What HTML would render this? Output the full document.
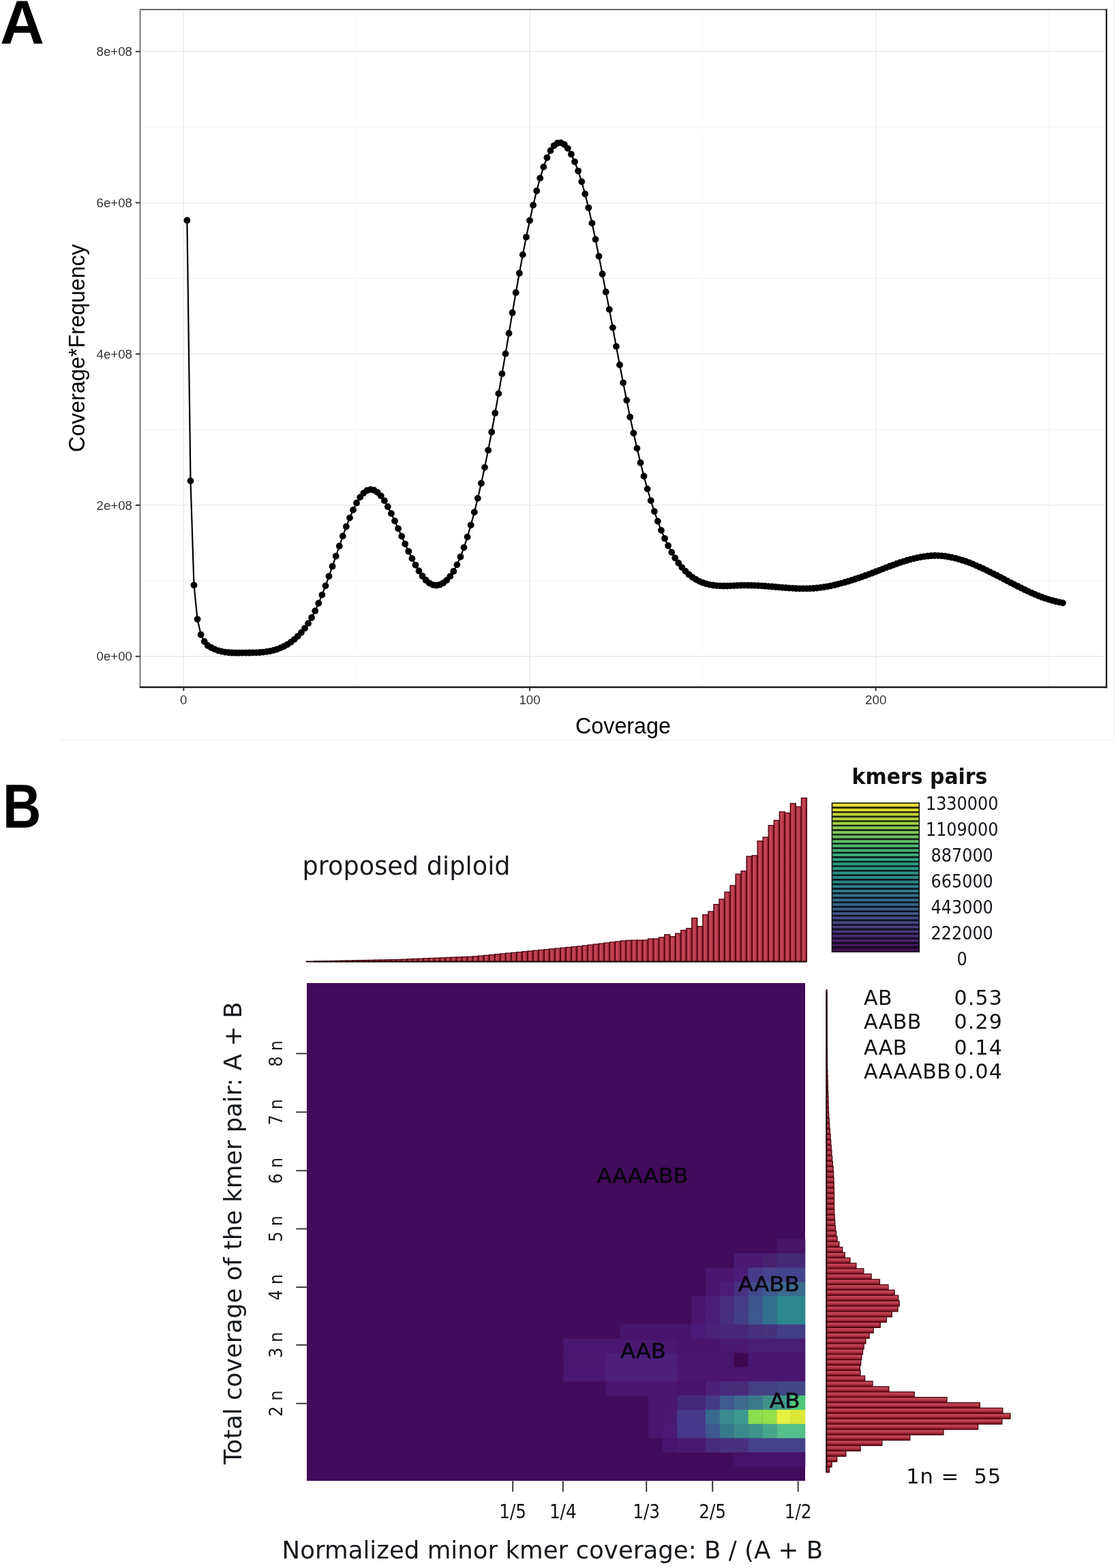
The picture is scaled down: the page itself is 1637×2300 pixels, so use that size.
<!DOCTYPE html>
<html><head><meta charset="utf-8"><title>Figure</title>
<style>html,body{margin:0;padding:0;background:#fff;} body{width:1637px;height:2300px;overflow:hidden;} svg{display:block;}</style>
</head><body>
<svg width="1637" height="2300" viewBox="0 0 1637 2300"><defs><linearGradient id="gv" x1="0" y1="0" x2="1" y2="0"><stop offset="0" stop-color="#a52a3a"/><stop offset="0.4" stop-color="#c84a5a"/><stop offset="0.75" stop-color="#b03444"/><stop offset="1" stop-color="#6a0a16"/></linearGradient><linearGradient id="gh" x1="0" y1="0" x2="0" y2="1"><stop offset="0" stop-color="#c44b5b"/><stop offset="0.45" stop-color="#bc3d4d"/><stop offset="0.8" stop-color="#8c1828"/><stop offset="1" stop-color="#60081a"/></linearGradient></defs>
<line x1="88" y1="1085.5" x2="1634.5" y2="1085.5" stroke="#f1f1f1" stroke-width="1.5"/>
<line x1="1634.5" y1="0" x2="1634.5" y2="1085.5" stroke="#f1f1f1" stroke-width="1.5"/>
<line x1="205.5" y1="851.9" x2="1623.0" y2="851.9" stroke="#f3f3f3" stroke-width="1.2"/>
<line x1="205.5" y1="630.1" x2="1623.0" y2="630.1" stroke="#f3f3f3" stroke-width="1.2"/>
<line x1="205.5" y1="408.3" x2="1623.0" y2="408.3" stroke="#f3f3f3" stroke-width="1.2"/>
<line x1="205.5" y1="186.5" x2="1623.0" y2="186.5" stroke="#f3f3f3" stroke-width="1.2"/>
<line x1="523.1" y1="14.0" x2="523.1" y2="1008.0" stroke="#fbfbfb" stroke-width="1.2"/>
<line x1="1030.8" y1="14.0" x2="1030.8" y2="1008.0" stroke="#fbfbfb" stroke-width="1.2"/>
<line x1="1538.5" y1="14.0" x2="1538.5" y2="1008.0" stroke="#f3f3f3" stroke-width="1.2"/>
<line x1="205.5" y1="962.8" x2="1623.0" y2="962.8" stroke="#eaeaea" stroke-width="1.5"/>
<line x1="205.5" y1="741.0" x2="1623.0" y2="741.0" stroke="#eaeaea" stroke-width="1.5"/>
<line x1="205.5" y1="519.2" x2="1623.0" y2="519.2" stroke="#eaeaea" stroke-width="1.5"/>
<line x1="205.5" y1="297.4" x2="1623.0" y2="297.4" stroke="#eaeaea" stroke-width="1.5"/>
<line x1="205.5" y1="75.6" x2="1623.0" y2="75.6" stroke="#eaeaea" stroke-width="1.5"/>
<line x1="269.3" y1="14.0" x2="269.3" y2="1008.0" stroke="#eaeaea" stroke-width="1.5"/>
<line x1="777.0" y1="14.0" x2="777.0" y2="1008.0" stroke="#eaeaea" stroke-width="1.5"/>
<line x1="1284.7" y1="14.0" x2="1284.7" y2="1008.0" stroke="#eaeaea" stroke-width="1.5"/>
<path d="M274.4,323.2 L279.5,705.4 L284.5,858.3 L289.6,908.3 L294.7,931.0 L299.8,941.0 L304.8,947.0 L309.9,950.0 L315.0,952.4 L320.1,954.3 L325.1,955.6 L330.2,956.6 L335.3,957.2 L340.4,957.5 L345.5,957.7 L350.5,957.7 L355.6,957.6 L360.7,957.6 L365.8,957.5 L370.8,957.4 L375.9,957.3 L381.0,957.0 L386.1,956.6 L391.1,955.9 L396.2,955.1 L401.3,953.9 L406.4,952.3 L411.5,950.4 L416.5,948.1 L421.6,945.3 L426.7,941.9 L431.8,937.9 L436.8,933.3 L441.9,927.9 L447.0,921.6 L452.1,914.4 L457.1,906.0 L462.2,896.1 L467.3,884.9 L472.4,872.6 L477.5,859.3 L482.5,845.3 L487.6,830.7 L492.7,815.8 L497.8,801.0 L502.8,786.4 L507.9,772.5 L513.0,759.6 L518.1,747.9 L523.1,737.7 L528.2,729.4 L533.3,723.3 L538.4,719.5 L543.5,718.2 L548.5,719.0 L553.6,722.1 L558.7,727.3 L563.8,734.4 L568.8,743.2 L573.9,753.2 L579.0,764.1 L584.1,775.3 L589.2,786.6 L594.2,797.8 L599.3,808.8 L604.4,819.2 L609.5,828.8 L614.5,837.5 L619.6,845.0 L624.7,851.0 L629.8,855.4 L634.8,857.9 L639.9,858.7 L645.0,857.7 L650.1,855.2 L655.2,851.1 L660.2,845.4 L665.3,838.0 L670.4,828.4 L675.5,816.8 L680.5,803.1 L685.6,787.6 L690.7,770.3 L695.8,751.3 L700.8,730.9 L705.9,709.0 L711.0,685.6 L716.1,660.4 L721.2,633.8 L726.2,606.0 L731.3,577.4 L736.4,548.3 L741.5,518.9 L746.5,489.0 L751.6,458.7 L756.7,429.2 L761.8,400.7 L766.8,373.6 L771.9,347.8 L777.0,323.5 L782.1,300.9 L787.2,280.0 L792.2,261.3 L797.3,244.9 L802.4,231.3 L807.5,220.9 L812.5,213.8 L817.6,210.0 L822.7,209.4 L827.8,212.0 L832.8,217.6 L837.9,226.2 L843.0,237.3 L848.1,250.8 L853.2,266.5 L858.2,284.5 L863.3,304.8 L868.4,327.4 L873.5,351.1 L878.5,375.9 L883.6,402.0 L888.7,428.2 L893.8,453.9 L898.8,480.6 L903.9,508.1 L909.0,535.2 L914.1,561.5 L919.2,587.1 L924.2,611.7 L929.3,635.3 L934.4,657.6 L939.5,678.7 L944.5,698.5 L949.6,717.1 L954.7,734.3 L959.8,750.1 L964.8,764.6 L969.9,777.9 L975.0,789.8 L980.1,800.5 L985.2,810.1 L990.2,818.5 L995.3,825.9 L1000.4,832.4 L1005.5,837.9 L1010.5,842.7 L1015.6,846.7 L1020.7,849.9 L1025.8,852.6 L1030.8,854.7 L1035.9,856.4 L1041.0,857.6 L1046.1,858.5 L1051.2,859.1 L1056.2,859.4 L1061.3,859.5 L1066.4,859.5 L1071.5,859.3 L1076.5,859.1 L1081.6,858.9 L1086.7,858.7 L1091.8,858.6 L1096.9,858.6 L1101.9,858.7 L1107.0,858.9 L1112.1,859.1 L1117.2,859.4 L1122.2,859.7 L1127.3,860.1 L1132.4,860.5 L1137.5,861.0 L1142.5,861.4 L1147.6,861.8 L1152.7,862.2 L1157.8,862.6 L1162.9,862.9 L1167.9,863.2 L1173.0,863.3 L1178.1,863.4 L1183.2,863.4 L1188.2,863.2 L1193.3,863.0 L1198.4,862.5 L1203.5,861.9 L1208.5,861.2 L1213.6,860.3 L1218.7,859.3 L1223.8,858.2 L1228.9,856.9 L1233.9,855.6 L1239.0,854.2 L1244.1,852.7 L1249.2,851.1 L1254.2,849.5 L1259.3,847.8 L1264.4,846.1 L1269.5,844.2 L1274.5,842.4 L1279.6,840.5 L1284.7,838.5 L1289.8,836.6 L1294.9,834.6 L1299.9,832.6 L1305.0,830.7 L1310.1,828.8 L1315.2,827.0 L1320.2,825.2 L1325.3,823.6 L1330.4,822.0 L1335.5,820.6 L1340.5,819.3 L1345.6,818.1 L1350.7,817.1 L1355.8,816.3 L1360.9,815.7 L1365.9,815.2 L1371.0,815.0 L1376.1,815.1 L1381.2,815.4 L1386.2,815.9 L1391.3,816.7 L1396.4,817.7 L1401.5,818.9 L1406.5,820.3 L1411.6,821.8 L1416.7,823.5 L1421.8,825.4 L1426.9,827.4 L1431.9,829.6 L1437.0,831.8 L1442.1,834.1 L1447.2,836.6 L1452.2,839.1 L1457.3,841.6 L1462.4,844.2 L1467.5,846.8 L1472.5,849.5 L1477.6,852.1 L1482.7,854.8 L1487.8,857.4 L1492.9,860.0 L1497.9,862.5 L1503.0,865.0 L1508.1,867.4 L1513.2,869.7 L1518.2,871.9 L1523.3,874.0 L1528.4,876.0 L1533.5,877.8 L1538.5,879.4 L1543.6,880.9 L1548.7,882.2 L1553.8,883.4 L1558.9,884.3" fill="none" stroke="#000" stroke-width="2.2" stroke-linejoin="round"/>
<g fill="#000"><circle cx="274.4" cy="323.2" r="4.9"/><circle cx="279.5" cy="705.4" r="4.9"/><circle cx="284.5" cy="858.3" r="4.9"/><circle cx="289.6" cy="908.3" r="4.9"/><circle cx="294.7" cy="931.0" r="4.9"/><circle cx="299.8" cy="941.0" r="4.9"/><circle cx="304.8" cy="947.0" r="4.9"/><circle cx="309.9" cy="950.0" r="4.9"/><circle cx="315.0" cy="952.4" r="4.9"/><circle cx="320.1" cy="954.3" r="4.9"/><circle cx="325.1" cy="955.6" r="4.9"/><circle cx="330.2" cy="956.6" r="4.9"/><circle cx="335.3" cy="957.2" r="4.9"/><circle cx="340.4" cy="957.5" r="4.9"/><circle cx="345.5" cy="957.7" r="4.9"/><circle cx="350.5" cy="957.7" r="4.9"/><circle cx="355.6" cy="957.6" r="4.9"/><circle cx="360.7" cy="957.6" r="4.9"/><circle cx="365.8" cy="957.5" r="4.9"/><circle cx="370.8" cy="957.4" r="4.9"/><circle cx="375.9" cy="957.3" r="4.9"/><circle cx="381.0" cy="957.0" r="4.9"/><circle cx="386.1" cy="956.6" r="4.9"/><circle cx="391.1" cy="955.9" r="4.9"/><circle cx="396.2" cy="955.1" r="4.9"/><circle cx="401.3" cy="953.9" r="4.9"/><circle cx="406.4" cy="952.3" r="4.9"/><circle cx="411.5" cy="950.4" r="4.9"/><circle cx="416.5" cy="948.1" r="4.9"/><circle cx="421.6" cy="945.3" r="4.9"/><circle cx="426.7" cy="941.9" r="4.9"/><circle cx="431.8" cy="937.9" r="4.9"/><circle cx="436.8" cy="933.3" r="4.9"/><circle cx="441.9" cy="927.9" r="4.9"/><circle cx="447.0" cy="921.6" r="4.9"/><circle cx="452.1" cy="914.4" r="4.9"/><circle cx="457.1" cy="906.0" r="4.9"/><circle cx="462.2" cy="896.1" r="4.9"/><circle cx="467.3" cy="884.9" r="4.9"/><circle cx="472.4" cy="872.6" r="4.9"/><circle cx="477.5" cy="859.3" r="4.9"/><circle cx="482.5" cy="845.3" r="4.9"/><circle cx="487.6" cy="830.7" r="4.9"/><circle cx="492.7" cy="815.8" r="4.9"/><circle cx="497.8" cy="801.0" r="4.9"/><circle cx="502.8" cy="786.4" r="4.9"/><circle cx="507.9" cy="772.5" r="4.9"/><circle cx="513.0" cy="759.6" r="4.9"/><circle cx="518.1" cy="747.9" r="4.9"/><circle cx="523.1" cy="737.7" r="4.9"/><circle cx="528.2" cy="729.4" r="4.9"/><circle cx="533.3" cy="723.3" r="4.9"/><circle cx="538.4" cy="719.5" r="4.9"/><circle cx="543.5" cy="718.2" r="4.9"/><circle cx="548.5" cy="719.0" r="4.9"/><circle cx="553.6" cy="722.1" r="4.9"/><circle cx="558.7" cy="727.3" r="4.9"/><circle cx="563.8" cy="734.4" r="4.9"/><circle cx="568.8" cy="743.2" r="4.9"/><circle cx="573.9" cy="753.2" r="4.9"/><circle cx="579.0" cy="764.1" r="4.9"/><circle cx="584.1" cy="775.3" r="4.9"/><circle cx="589.2" cy="786.6" r="4.9"/><circle cx="594.2" cy="797.8" r="4.9"/><circle cx="599.3" cy="808.8" r="4.9"/><circle cx="604.4" cy="819.2" r="4.9"/><circle cx="609.5" cy="828.8" r="4.9"/><circle cx="614.5" cy="837.5" r="4.9"/><circle cx="619.6" cy="845.0" r="4.9"/><circle cx="624.7" cy="851.0" r="4.9"/><circle cx="629.8" cy="855.4" r="4.9"/><circle cx="634.8" cy="857.9" r="4.9"/><circle cx="639.9" cy="858.7" r="4.9"/><circle cx="645.0" cy="857.7" r="4.9"/><circle cx="650.1" cy="855.2" r="4.9"/><circle cx="655.2" cy="851.1" r="4.9"/><circle cx="660.2" cy="845.4" r="4.9"/><circle cx="665.3" cy="838.0" r="4.9"/><circle cx="670.4" cy="828.4" r="4.9"/><circle cx="675.5" cy="816.8" r="4.9"/><circle cx="680.5" cy="803.1" r="4.9"/><circle cx="685.6" cy="787.6" r="4.9"/><circle cx="690.7" cy="770.3" r="4.9"/><circle cx="695.8" cy="751.3" r="4.9"/><circle cx="700.8" cy="730.9" r="4.9"/><circle cx="705.9" cy="709.0" r="4.9"/><circle cx="711.0" cy="685.6" r="4.9"/><circle cx="716.1" cy="660.4" r="4.9"/><circle cx="721.2" cy="633.8" r="4.9"/><circle cx="726.2" cy="606.0" r="4.9"/><circle cx="731.3" cy="577.4" r="4.9"/><circle cx="736.4" cy="548.3" r="4.9"/><circle cx="741.5" cy="518.9" r="4.9"/><circle cx="746.5" cy="489.0" r="4.9"/><circle cx="751.6" cy="458.7" r="4.9"/><circle cx="756.7" cy="429.2" r="4.9"/><circle cx="761.8" cy="400.7" r="4.9"/><circle cx="766.8" cy="373.6" r="4.9"/><circle cx="771.9" cy="347.8" r="4.9"/><circle cx="777.0" cy="323.5" r="4.9"/><circle cx="782.1" cy="300.9" r="4.9"/><circle cx="787.2" cy="280.0" r="4.9"/><circle cx="792.2" cy="261.3" r="4.9"/><circle cx="797.3" cy="244.9" r="4.9"/><circle cx="802.4" cy="231.3" r="4.9"/><circle cx="807.5" cy="220.9" r="4.9"/><circle cx="812.5" cy="213.8" r="4.9"/><circle cx="817.6" cy="210.0" r="4.9"/><circle cx="822.7" cy="209.4" r="4.9"/><circle cx="827.8" cy="212.0" r="4.9"/><circle cx="832.8" cy="217.6" r="4.9"/><circle cx="837.9" cy="226.2" r="4.9"/><circle cx="843.0" cy="237.3" r="4.9"/><circle cx="848.1" cy="250.8" r="4.9"/><circle cx="853.2" cy="266.5" r="4.9"/><circle cx="858.2" cy="284.5" r="4.9"/><circle cx="863.3" cy="304.8" r="4.9"/><circle cx="868.4" cy="327.4" r="4.9"/><circle cx="873.5" cy="351.1" r="4.9"/><circle cx="878.5" cy="375.9" r="4.9"/><circle cx="883.6" cy="402.0" r="4.9"/><circle cx="888.7" cy="428.2" r="4.9"/><circle cx="893.8" cy="453.9" r="4.9"/><circle cx="898.8" cy="480.6" r="4.9"/><circle cx="903.9" cy="508.1" r="4.9"/><circle cx="909.0" cy="535.2" r="4.9"/><circle cx="914.1" cy="561.5" r="4.9"/><circle cx="919.2" cy="587.1" r="4.9"/><circle cx="924.2" cy="611.7" r="4.9"/><circle cx="929.3" cy="635.3" r="4.9"/><circle cx="934.4" cy="657.6" r="4.9"/><circle cx="939.5" cy="678.7" r="4.9"/><circle cx="944.5" cy="698.5" r="4.9"/><circle cx="949.6" cy="717.1" r="4.9"/><circle cx="954.7" cy="734.3" r="4.9"/><circle cx="959.8" cy="750.1" r="4.9"/><circle cx="964.8" cy="764.6" r="4.9"/><circle cx="969.9" cy="777.9" r="4.9"/><circle cx="975.0" cy="789.8" r="4.9"/><circle cx="980.1" cy="800.5" r="4.9"/><circle cx="985.2" cy="810.1" r="4.9"/><circle cx="990.2" cy="818.5" r="4.9"/><circle cx="995.3" cy="825.9" r="4.9"/><circle cx="1000.4" cy="832.4" r="4.9"/><circle cx="1005.5" cy="837.9" r="4.9"/><circle cx="1010.5" cy="842.7" r="4.9"/><circle cx="1015.6" cy="846.7" r="4.9"/><circle cx="1020.7" cy="849.9" r="4.9"/><circle cx="1025.8" cy="852.6" r="4.9"/><circle cx="1030.8" cy="854.7" r="4.9"/><circle cx="1035.9" cy="856.4" r="4.9"/><circle cx="1041.0" cy="857.6" r="4.9"/><circle cx="1046.1" cy="858.5" r="4.9"/><circle cx="1051.2" cy="859.1" r="4.9"/><circle cx="1056.2" cy="859.4" r="4.9"/><circle cx="1061.3" cy="859.5" r="4.9"/><circle cx="1066.4" cy="859.5" r="4.9"/><circle cx="1071.5" cy="859.3" r="4.9"/><circle cx="1076.5" cy="859.1" r="4.9"/><circle cx="1081.6" cy="858.9" r="4.9"/><circle cx="1086.7" cy="858.7" r="4.9"/><circle cx="1091.8" cy="858.6" r="4.9"/><circle cx="1096.9" cy="858.6" r="4.9"/><circle cx="1101.9" cy="858.7" r="4.9"/><circle cx="1107.0" cy="858.9" r="4.9"/><circle cx="1112.1" cy="859.1" r="4.9"/><circle cx="1117.2" cy="859.4" r="4.9"/><circle cx="1122.2" cy="859.7" r="4.9"/><circle cx="1127.3" cy="860.1" r="4.9"/><circle cx="1132.4" cy="860.5" r="4.9"/><circle cx="1137.5" cy="861.0" r="4.9"/><circle cx="1142.5" cy="861.4" r="4.9"/><circle cx="1147.6" cy="861.8" r="4.9"/><circle cx="1152.7" cy="862.2" r="4.9"/><circle cx="1157.8" cy="862.6" r="4.9"/><circle cx="1162.9" cy="862.9" r="4.9"/><circle cx="1167.9" cy="863.2" r="4.9"/><circle cx="1173.0" cy="863.3" r="4.9"/><circle cx="1178.1" cy="863.4" r="4.9"/><circle cx="1183.2" cy="863.4" r="4.9"/><circle cx="1188.2" cy="863.2" r="4.9"/><circle cx="1193.3" cy="863.0" r="4.9"/><circle cx="1198.4" cy="862.5" r="4.9"/><circle cx="1203.5" cy="861.9" r="4.9"/><circle cx="1208.5" cy="861.2" r="4.9"/><circle cx="1213.6" cy="860.3" r="4.9"/><circle cx="1218.7" cy="859.3" r="4.9"/><circle cx="1223.8" cy="858.2" r="4.9"/><circle cx="1228.9" cy="856.9" r="4.9"/><circle cx="1233.9" cy="855.6" r="4.9"/><circle cx="1239.0" cy="854.2" r="4.9"/><circle cx="1244.1" cy="852.7" r="4.9"/><circle cx="1249.2" cy="851.1" r="4.9"/><circle cx="1254.2" cy="849.5" r="4.9"/><circle cx="1259.3" cy="847.8" r="4.9"/><circle cx="1264.4" cy="846.1" r="4.9"/><circle cx="1269.5" cy="844.2" r="4.9"/><circle cx="1274.5" cy="842.4" r="4.9"/><circle cx="1279.6" cy="840.5" r="4.9"/><circle cx="1284.7" cy="838.5" r="4.9"/><circle cx="1289.8" cy="836.6" r="4.9"/><circle cx="1294.9" cy="834.6" r="4.9"/><circle cx="1299.9" cy="832.6" r="4.9"/><circle cx="1305.0" cy="830.7" r="4.9"/><circle cx="1310.1" cy="828.8" r="4.9"/><circle cx="1315.2" cy="827.0" r="4.9"/><circle cx="1320.2" cy="825.2" r="4.9"/><circle cx="1325.3" cy="823.6" r="4.9"/><circle cx="1330.4" cy="822.0" r="4.9"/><circle cx="1335.5" cy="820.6" r="4.9"/><circle cx="1340.5" cy="819.3" r="4.9"/><circle cx="1345.6" cy="818.1" r="4.9"/><circle cx="1350.7" cy="817.1" r="4.9"/><circle cx="1355.8" cy="816.3" r="4.9"/><circle cx="1360.9" cy="815.7" r="4.9"/><circle cx="1365.9" cy="815.2" r="4.9"/><circle cx="1371.0" cy="815.0" r="4.9"/><circle cx="1376.1" cy="815.1" r="4.9"/><circle cx="1381.2" cy="815.4" r="4.9"/><circle cx="1386.2" cy="815.9" r="4.9"/><circle cx="1391.3" cy="816.7" r="4.9"/><circle cx="1396.4" cy="817.7" r="4.9"/><circle cx="1401.5" cy="818.9" r="4.9"/><circle cx="1406.5" cy="820.3" r="4.9"/><circle cx="1411.6" cy="821.8" r="4.9"/><circle cx="1416.7" cy="823.5" r="4.9"/><circle cx="1421.8" cy="825.4" r="4.9"/><circle cx="1426.9" cy="827.4" r="4.9"/><circle cx="1431.9" cy="829.6" r="4.9"/><circle cx="1437.0" cy="831.8" r="4.9"/><circle cx="1442.1" cy="834.1" r="4.9"/><circle cx="1447.2" cy="836.6" r="4.9"/><circle cx="1452.2" cy="839.1" r="4.9"/><circle cx="1457.3" cy="841.6" r="4.9"/><circle cx="1462.4" cy="844.2" r="4.9"/><circle cx="1467.5" cy="846.8" r="4.9"/><circle cx="1472.5" cy="849.5" r="4.9"/><circle cx="1477.6" cy="852.1" r="4.9"/><circle cx="1482.7" cy="854.8" r="4.9"/><circle cx="1487.8" cy="857.4" r="4.9"/><circle cx="1492.9" cy="860.0" r="4.9"/><circle cx="1497.9" cy="862.5" r="4.9"/><circle cx="1503.0" cy="865.0" r="4.9"/><circle cx="1508.1" cy="867.4" r="4.9"/><circle cx="1513.2" cy="869.7" r="4.9"/><circle cx="1518.2" cy="871.9" r="4.9"/><circle cx="1523.3" cy="874.0" r="4.9"/><circle cx="1528.4" cy="876.0" r="4.9"/><circle cx="1533.5" cy="877.8" r="4.9"/><circle cx="1538.5" cy="879.4" r="4.9"/><circle cx="1543.6" cy="880.9" r="4.9"/><circle cx="1548.7" cy="882.2" r="4.9"/><circle cx="1553.8" cy="883.4" r="4.9"/><circle cx="1558.9" cy="884.3" r="4.9"/></g>
<line x1="205.5" y1="14.0" x2="1623.0" y2="14.0" stroke="#333" stroke-width="1.6"/>
<line x1="205.5" y1="14.0" x2="205.5" y2="1008.0" stroke="#555" stroke-width="1.5"/>
<line x1="1623.0" y1="13.2" x2="1623.0" y2="1009.2" stroke="#111" stroke-width="2.2"/>
<line x1="204.8" y1="1008.0" x2="1624.1" y2="1008.0" stroke="#1a1a1a" stroke-width="2.4"/>
<line x1="198.8" y1="962.8" x2="205.5" y2="962.8" stroke="#333" stroke-width="2"/>
<line x1="198.8" y1="741.0" x2="205.5" y2="741.0" stroke="#333" stroke-width="2"/>
<line x1="198.8" y1="519.2" x2="205.5" y2="519.2" stroke="#333" stroke-width="2"/>
<line x1="198.8" y1="297.4" x2="205.5" y2="297.4" stroke="#333" stroke-width="2"/>
<line x1="198.8" y1="75.6" x2="205.5" y2="75.6" stroke="#333" stroke-width="2"/>
<line x1="269.3" y1="1008.0" x2="269.3" y2="1013.5" stroke="#333" stroke-width="2"/>
<line x1="777.0" y1="1008.0" x2="777.0" y2="1013.5" stroke="#333" stroke-width="2"/>
<line x1="1284.7" y1="1008.0" x2="1284.7" y2="1013.5" stroke="#333" stroke-width="2"/>
<text x="194" y="969.3" font-family="Liberation Sans, Arial, sans-serif" font-size="18.7" fill="#333" text-anchor="end">0e+00</text>
<text x="194" y="747.5" font-family="Liberation Sans, Arial, sans-serif" font-size="18.7" fill="#333" text-anchor="end">2e+08</text>
<text x="194" y="525.7" font-family="Liberation Sans, Arial, sans-serif" font-size="18.7" fill="#333" text-anchor="end">4e+08</text>
<text x="194" y="303.9" font-family="Liberation Sans, Arial, sans-serif" font-size="18.7" fill="#333" text-anchor="end">6e+08</text>
<text x="194" y="82.1" font-family="Liberation Sans, Arial, sans-serif" font-size="18.7" fill="#333" text-anchor="end">8e+08</text>
<text x="269.3" y="1033" font-family="Liberation Sans, Arial, sans-serif" font-size="18.7" fill="#333" text-anchor="middle">0</text>
<text x="777.0" y="1033" font-family="Liberation Sans, Arial, sans-serif" font-size="18.7" fill="#333" text-anchor="middle">100</text>
<text x="1284.7" y="1033" font-family="Liberation Sans, Arial, sans-serif" font-size="18.7" fill="#333" text-anchor="middle">200</text>
<text x="914" y="1076" font-family="Liberation Sans, Arial, sans-serif" font-size="32.3" fill="#000" text-anchor="middle">Coverage</text>
<text transform="translate(124.2,510.6) rotate(-90)" x="0" y="0" font-family="Liberation Sans, Arial, sans-serif" font-size="32.3" fill="#000" text-anchor="middle">Coverage*Frequency</text>
<text x="0" y="64" font-family="Liberation Sans, Arial, sans-serif" font-weight="bold" font-size="90" fill="#000">A</text>
<text transform="translate(4,1213.9) scale(0.865,1)" x="0" y="0" font-family="Liberation Sans, Arial, sans-serif" font-weight="bold" font-size="90.3" fill="#000">B</text>
<text x="443.4" y="1282.9" font-family="DejaVu Sans, sans-serif" font-size="36.7" fill="#15181c">proposed diploid</text>
<g fill="url(#gv)" stroke="#4a0610" stroke-width="1.3"><rect x="1175.37" y="1170.5" width="8.03" height="240.1"/><rect x="1167.34" y="1183.3" width="8.03" height="227.3"/><rect x="1159.31" y="1178.5" width="8.03" height="232.1"/><rect x="1151.28" y="1192.4" width="8.03" height="218.2"/><rect x="1143.25" y="1190.8" width="8.03" height="219.8"/><rect x="1135.22" y="1203.3" width="8.03" height="207.3"/><rect x="1127.19" y="1210.8" width="8.03" height="199.8"/><rect x="1119.16" y="1228.0" width="8.03" height="182.6"/><rect x="1111.13" y="1233.6" width="8.03" height="177.0"/><rect x="1103.10" y="1254.9" width="8.03" height="155.7"/><rect x="1095.07" y="1256.1" width="8.03" height="154.5"/><rect x="1087.04" y="1277.6" width="8.03" height="133.0"/><rect x="1079.01" y="1282.1" width="8.03" height="128.5"/><rect x="1070.98" y="1298.9" width="8.03" height="111.7"/><rect x="1062.95" y="1308.5" width="8.03" height="102.1"/><rect x="1054.92" y="1318.9" width="8.03" height="91.7"/><rect x="1046.89" y="1326.6" width="8.03" height="84.0"/><rect x="1038.86" y="1337.0" width="8.03" height="73.6"/><rect x="1030.83" y="1341.8" width="8.03" height="68.8"/><rect x="1022.80" y="1358.9" width="8.03" height="51.7"/><rect x="1014.77" y="1346.6" width="8.03" height="64.0"/><rect x="1006.74" y="1361.8" width="8.03" height="48.8"/><rect x="998.71" y="1364.5" width="8.03" height="46.1"/><rect x="990.68" y="1369.3" width="8.03" height="41.3"/><rect x="982.65" y="1373.8" width="8.03" height="36.8"/><rect x="974.62" y="1370.9" width="8.03" height="39.7"/><rect x="966.59" y="1374.9" width="8.03" height="35.7"/><rect x="958.56" y="1377.0" width="8.03" height="33.6"/><rect x="950.53" y="1377.0" width="8.03" height="33.6"/><rect x="942.50" y="1379.0" width="8.03" height="31.6"/><rect x="934.47" y="1379.1" width="8.03" height="31.5"/><rect x="926.44" y="1379.2" width="8.03" height="31.4"/><rect x="918.41" y="1379.4" width="8.03" height="31.2"/><rect x="910.38" y="1380.0" width="8.03" height="30.6"/><rect x="902.35" y="1381.0" width="8.03" height="29.6"/><rect x="894.32" y="1382.0" width="8.03" height="28.6"/><rect x="886.29" y="1383.0" width="8.03" height="27.6"/><rect x="878.26" y="1384.0" width="8.03" height="26.6"/><rect x="870.23" y="1385.0" width="8.03" height="25.6"/><rect x="862.20" y="1386.0" width="8.03" height="24.6"/><rect x="854.17" y="1387.0" width="8.03" height="23.6"/><rect x="846.14" y="1388.0" width="8.03" height="22.6"/><rect x="838.11" y="1388.8" width="8.03" height="21.8"/><rect x="830.08" y="1389.5" width="8.03" height="21.1"/><rect x="822.05" y="1390.3" width="8.03" height="20.3"/><rect x="814.02" y="1391.1" width="8.03" height="19.5"/><rect x="805.99" y="1391.9" width="8.03" height="18.7"/><rect x="797.96" y="1392.7" width="8.03" height="17.9"/><rect x="789.93" y="1393.4" width="8.03" height="17.2"/><rect x="781.90" y="1394.2" width="8.03" height="16.4"/><rect x="773.87" y="1395.0" width="8.03" height="15.6"/><rect x="765.84" y="1395.8" width="8.03" height="14.8"/><rect x="757.81" y="1396.6" width="8.03" height="14.0"/><rect x="749.78" y="1397.4" width="8.03" height="13.2"/><rect x="741.75" y="1398.1" width="8.03" height="12.5"/><rect x="733.72" y="1398.9" width="8.03" height="11.7"/><rect x="725.69" y="1399.7" width="8.03" height="10.9"/><rect x="717.66" y="1400.5" width="8.03" height="10.1"/><rect x="709.63" y="1401.3" width="8.03" height="9.3"/><rect x="701.60" y="1402.1" width="8.03" height="8.5"/><rect x="693.57" y="1402.8" width="8.03" height="7.8"/><rect x="685.54" y="1403.3" width="8.03" height="7.3"/><rect x="677.51" y="1403.6" width="8.03" height="7.0"/><rect x="669.48" y="1403.9" width="8.03" height="6.7"/><rect x="661.45" y="1404.2" width="8.03" height="6.4"/><rect x="653.42" y="1404.5" width="8.03" height="6.1"/><rect x="645.39" y="1404.9" width="8.03" height="5.7"/><rect x="637.36" y="1405.2" width="8.03" height="5.4"/><rect x="629.33" y="1405.5" width="8.03" height="5.1"/><rect x="621.30" y="1405.8" width="8.03" height="4.8"/><rect x="613.27" y="1406.2" width="8.03" height="4.4"/><rect x="605.24" y="1406.5" width="8.03" height="4.1"/><rect x="597.21" y="1406.8" width="8.03" height="3.8"/><rect x="589.18" y="1407.1" width="8.03" height="3.5"/><rect x="581.15" y="1407.5" width="8.03" height="3.1"/><rect x="573.12" y="1407.6" width="8.03" height="3.0"/><rect x="565.09" y="1407.8" width="8.03" height="2.8"/><rect x="557.06" y="1408.0" width="8.03" height="2.6"/><rect x="549.03" y="1408.1" width="8.03" height="2.5"/><rect x="541.00" y="1408.3" width="8.03" height="2.3"/><rect x="532.97" y="1408.5" width="8.03" height="2.1"/><rect x="524.94" y="1408.6" width="8.03" height="2.0"/><rect x="516.91" y="1408.8" width="8.03" height="1.8"/><rect x="508.88" y="1409.0" width="8.03" height="1.6"/><rect x="500.85" y="1409.1" width="8.03" height="1.5"/><rect x="492.82" y="1409.3" width="8.03" height="1.3"/><rect x="484.79" y="1409.5" width="8.03" height="1.1"/><rect x="476.76" y="1409.6" width="8.03" height="1.0"/><rect x="468.73" y="1409.8" width="8.03" height="0.8"/><rect x="460.70" y="1410.0" width="8.03" height="0.6"/></g>
<line x1="448.8" y1="1410.6" x2="1183.4" y2="1410.6" stroke="#1a0608" stroke-width="2"/>
<rect x="1220.5" y="1178.00" width="127.8" height="6.91" fill="rgb(232,220,53)"/><rect x="1220.5" y="1184.61" width="127.8" height="6.91" fill="rgb(216,216,45)"/><rect x="1220.5" y="1191.22" width="127.8" height="6.91" fill="rgb(197,214,49)"/><rect x="1220.5" y="1197.84" width="127.8" height="6.91" fill="rgb(179,211,57)"/><rect x="1220.5" y="1204.45" width="127.8" height="6.91" fill="rgb(161,208,67)"/><rect x="1220.5" y="1211.06" width="127.8" height="6.91" fill="rgb(143,203,78)"/><rect x="1220.5" y="1217.67" width="127.8" height="6.91" fill="rgb(126,198,88)"/><rect x="1220.5" y="1224.28" width="127.8" height="6.91" fill="rgb(111,194,96)"/><rect x="1220.5" y="1230.90" width="127.8" height="6.91" fill="rgb(95,188,104)"/><rect x="1220.5" y="1237.51" width="127.8" height="6.91" fill="rgb(81,182,111)"/><rect x="1220.5" y="1244.12" width="127.8" height="6.91" fill="rgb(69,177,116)"/><rect x="1220.5" y="1250.73" width="127.8" height="6.91" fill="rgb(58,170,122)"/><rect x="1220.5" y="1257.35" width="127.8" height="6.91" fill="rgb(51,164,126)"/><rect x="1220.5" y="1263.96" width="127.8" height="6.91" fill="rgb(44,157,129)"/><rect x="1220.5" y="1270.57" width="127.8" height="6.91" fill="rgb(42,151,131)"/><rect x="1220.5" y="1277.18" width="127.8" height="6.91" fill="rgb(42,145,133)"/><rect x="1220.5" y="1283.79" width="127.8" height="6.91" fill="rgb(43,139,134)"/><rect x="1220.5" y="1290.41" width="127.8" height="6.91" fill="rgb(45,132,135)"/><rect x="1220.5" y="1297.02" width="127.8" height="6.91" fill="rgb(47,125,136)"/><rect x="1220.5" y="1303.63" width="127.8" height="6.91" fill="rgb(50,118,135)"/><rect x="1220.5" y="1310.24" width="127.8" height="6.91" fill="rgb(52,112,135)"/><rect x="1220.5" y="1316.85" width="127.8" height="6.91" fill="rgb(54,106,135)"/><rect x="1220.5" y="1323.47" width="127.8" height="6.91" fill="rgb(57,99,134)"/><rect x="1220.5" y="1330.08" width="127.8" height="6.91" fill="rgb(60,92,134)"/><rect x="1220.5" y="1336.69" width="127.8" height="6.91" fill="rgb(63,85,132)"/><rect x="1220.5" y="1343.30" width="127.8" height="6.91" fill="rgb(66,78,130)"/><rect x="1220.5" y="1349.92" width="127.8" height="6.91" fill="rgb(68,70,128)"/><rect x="1220.5" y="1356.53" width="127.8" height="6.91" fill="rgb(70,61,123)"/><rect x="1220.5" y="1363.14" width="127.8" height="6.91" fill="rgb(72,53,118)"/><rect x="1220.5" y="1369.75" width="127.8" height="6.91" fill="rgb(72,43,111)"/><rect x="1220.5" y="1376.36" width="127.8" height="6.91" fill="rgb(71,34,103)"/><rect x="1220.5" y="1382.98" width="127.8" height="6.91" fill="rgb(69,23,93)"/><rect x="1220.5" y="1389.59" width="127.8" height="6.91" fill="rgb(66,13,83)"/><line x1="1220.5" y1="1184.61" x2="1348.3" y2="1184.61" stroke="#02060c" stroke-opacity="0.85" stroke-width="2.6"/><line x1="1220.5" y1="1191.22" x2="1348.3" y2="1191.22" stroke="#02060c" stroke-opacity="0.85" stroke-width="2.6"/><line x1="1220.5" y1="1197.84" x2="1348.3" y2="1197.84" stroke="#02060c" stroke-opacity="0.85" stroke-width="2.6"/><line x1="1220.5" y1="1204.45" x2="1348.3" y2="1204.45" stroke="#02060c" stroke-opacity="0.85" stroke-width="2.6"/><line x1="1220.5" y1="1211.06" x2="1348.3" y2="1211.06" stroke="#02060c" stroke-opacity="0.85" stroke-width="2.6"/><line x1="1220.5" y1="1217.67" x2="1348.3" y2="1217.67" stroke="#02060c" stroke-opacity="0.85" stroke-width="2.6"/><line x1="1220.5" y1="1224.28" x2="1348.3" y2="1224.28" stroke="#02060c" stroke-opacity="0.85" stroke-width="2.6"/><line x1="1220.5" y1="1230.90" x2="1348.3" y2="1230.90" stroke="#02060c" stroke-opacity="0.85" stroke-width="2.6"/><line x1="1220.5" y1="1237.51" x2="1348.3" y2="1237.51" stroke="#02060c" stroke-opacity="0.85" stroke-width="2.6"/><line x1="1220.5" y1="1244.12" x2="1348.3" y2="1244.12" stroke="#02060c" stroke-opacity="0.85" stroke-width="2.6"/><line x1="1220.5" y1="1250.73" x2="1348.3" y2="1250.73" stroke="#02060c" stroke-opacity="0.85" stroke-width="2.6"/><line x1="1220.5" y1="1257.35" x2="1348.3" y2="1257.35" stroke="#02060c" stroke-opacity="0.85" stroke-width="2.6"/><line x1="1220.5" y1="1263.96" x2="1348.3" y2="1263.96" stroke="#02060c" stroke-opacity="0.85" stroke-width="2.6"/><line x1="1220.5" y1="1270.57" x2="1348.3" y2="1270.57" stroke="#02060c" stroke-opacity="0.85" stroke-width="2.6"/><line x1="1220.5" y1="1277.18" x2="1348.3" y2="1277.18" stroke="#02060c" stroke-opacity="0.85" stroke-width="2.6"/><line x1="1220.5" y1="1283.79" x2="1348.3" y2="1283.79" stroke="#02060c" stroke-opacity="0.85" stroke-width="2.6"/><line x1="1220.5" y1="1290.41" x2="1348.3" y2="1290.41" stroke="#02060c" stroke-opacity="0.85" stroke-width="2.6"/><line x1="1220.5" y1="1297.02" x2="1348.3" y2="1297.02" stroke="#02060c" stroke-opacity="0.85" stroke-width="2.6"/><line x1="1220.5" y1="1303.63" x2="1348.3" y2="1303.63" stroke="#02060c" stroke-opacity="0.85" stroke-width="2.6"/><line x1="1220.5" y1="1310.24" x2="1348.3" y2="1310.24" stroke="#02060c" stroke-opacity="0.85" stroke-width="2.6"/><line x1="1220.5" y1="1316.85" x2="1348.3" y2="1316.85" stroke="#02060c" stroke-opacity="0.85" stroke-width="2.6"/><line x1="1220.5" y1="1323.47" x2="1348.3" y2="1323.47" stroke="#02060c" stroke-opacity="0.85" stroke-width="2.6"/><line x1="1220.5" y1="1330.08" x2="1348.3" y2="1330.08" stroke="#02060c" stroke-opacity="0.85" stroke-width="2.6"/><line x1="1220.5" y1="1336.69" x2="1348.3" y2="1336.69" stroke="#02060c" stroke-opacity="0.85" stroke-width="2.6"/><line x1="1220.5" y1="1343.30" x2="1348.3" y2="1343.30" stroke="#02060c" stroke-opacity="0.85" stroke-width="2.6"/><line x1="1220.5" y1="1349.92" x2="1348.3" y2="1349.92" stroke="#02060c" stroke-opacity="0.85" stroke-width="2.6"/><line x1="1220.5" y1="1356.53" x2="1348.3" y2="1356.53" stroke="#02060c" stroke-opacity="0.85" stroke-width="2.6"/><line x1="1220.5" y1="1363.14" x2="1348.3" y2="1363.14" stroke="#02060c" stroke-opacity="0.85" stroke-width="2.6"/><line x1="1220.5" y1="1369.75" x2="1348.3" y2="1369.75" stroke="#02060c" stroke-opacity="0.85" stroke-width="2.6"/><line x1="1220.5" y1="1376.36" x2="1348.3" y2="1376.36" stroke="#02060c" stroke-opacity="0.85" stroke-width="2.6"/><line x1="1220.5" y1="1382.98" x2="1348.3" y2="1382.98" stroke="#02060c" stroke-opacity="0.85" stroke-width="2.6"/><line x1="1220.5" y1="1389.59" x2="1348.3" y2="1389.59" stroke="#02060c" stroke-opacity="0.85" stroke-width="2.6"/><rect x="1220.5" y="1178.0" width="127.8" height="218.2" fill="none" stroke="#111" stroke-width="1.6"/>
<text x="1349" y="1149.5" font-family="DejaVu Sans, sans-serif" font-stretch="condensed" font-weight="bold" font-size="32.6" fill="#111" text-anchor="middle" textLength="198.9" lengthAdjust="spacingAndGlyphs">kmers pairs</text>
<text x="1411.2" y="1187.7" font-family="DejaVu Sans, sans-serif" font-stretch="condensed" font-size="26.6" fill="#15181c" text-anchor="middle">1330000</text>
<text x="1411.2" y="1225.8" font-family="DejaVu Sans, sans-serif" font-stretch="condensed" font-size="26.6" fill="#15181c" text-anchor="middle">1109000</text>
<text x="1411.2" y="1263.9" font-family="DejaVu Sans, sans-serif" font-stretch="condensed" font-size="26.6" fill="#15181c" text-anchor="middle">887000</text>
<text x="1411.2" y="1302.0" font-family="DejaVu Sans, sans-serif" font-stretch="condensed" font-size="26.6" fill="#15181c" text-anchor="middle">665000</text>
<text x="1411.2" y="1340.1" font-family="DejaVu Sans, sans-serif" font-stretch="condensed" font-size="26.6" fill="#15181c" text-anchor="middle">443000</text>
<text x="1411.2" y="1378.2" font-family="DejaVu Sans, sans-serif" font-stretch="condensed" font-size="26.6" fill="#15181c" text-anchor="middle">222000</text>
<text x="1411.2" y="1416.3" font-family="DejaVu Sans, sans-serif" font-stretch="condensed" font-size="26.6" fill="#15181c" text-anchor="middle">0</text>
<rect x="450.0" y="1442.0" width="731" height="730.2" fill="#430b5b"/>
<rect x="1139.23" y="1817.53" width="42.07" height="21.16" fill="#47156a"/><rect x="1076.57" y="1838.39" width="42.07" height="21.16" fill="#4a1a72"/><rect x="1118.34" y="1838.39" width="21.19" height="21.16" fill="#482070"/><rect x="1139.23" y="1838.39" width="42.07" height="21.16" fill="#462a78"/><rect x="1034.80" y="1859.26" width="42.07" height="21.16" fill="#4a1670"/><rect x="1076.57" y="1859.26" width="21.19" height="21.16" fill="#4a1c78"/><rect x="1097.46" y="1859.26" width="21.19" height="21.16" fill="#473a88"/><rect x="1118.34" y="1859.26" width="62.96" height="21.16" fill="#45448c"/><rect x="1034.80" y="1880.12" width="21.19" height="21.16" fill="#4a1670"/><rect x="1055.69" y="1880.12" width="21.19" height="21.16" fill="#4b1c78"/><rect x="1076.57" y="1880.12" width="21.19" height="21.16" fill="#47307e"/><rect x="1097.46" y="1880.12" width="21.19" height="21.16" fill="#424a8c"/><rect x="1118.34" y="1880.12" width="21.19" height="21.16" fill="#3e5a8e"/><rect x="1139.23" y="1880.12" width="42.07" height="21.16" fill="#3a6a8e"/><rect x="1013.91" y="1900.98" width="21.19" height="21.16" fill="#4a1670"/><rect x="1034.80" y="1900.98" width="21.19" height="21.16" fill="#4a1d78"/><rect x="1055.69" y="1900.98" width="21.19" height="21.16" fill="#46307e"/><rect x="1076.57" y="1900.98" width="21.19" height="21.16" fill="#443c86"/><rect x="1097.46" y="1900.98" width="21.19" height="21.16" fill="#3e5590"/><rect x="1118.34" y="1900.98" width="21.19" height="21.16" fill="#336f8e"/><rect x="1139.23" y="1900.98" width="42.07" height="21.16" fill="#2d878c"/><rect x="1013.91" y="1921.85" width="21.19" height="21.16" fill="#4a1670"/><rect x="1034.80" y="1921.85" width="21.19" height="21.16" fill="#4a1d78"/><rect x="1055.69" y="1921.85" width="21.19" height="21.16" fill="#46307e"/><rect x="1076.57" y="1921.85" width="21.19" height="21.16" fill="#423f88"/><rect x="1097.46" y="1921.85" width="21.19" height="21.16" fill="#3d5890"/><rect x="1118.34" y="1921.85" width="21.19" height="21.16" fill="#33708e"/><rect x="1139.23" y="1921.85" width="42.07" height="21.16" fill="#2d878c"/><rect x="909.49" y="1942.71" width="104.73" height="21.16" fill="#48156c"/><rect x="1013.91" y="1942.71" width="21.19" height="21.16" fill="#4a1a78"/><rect x="1034.80" y="1942.71" width="21.19" height="21.16" fill="#4a2278"/><rect x="1055.69" y="1942.71" width="42.07" height="21.16" fill="#48287a"/><rect x="1097.46" y="1942.71" width="21.19" height="21.16" fill="#46307e"/><rect x="1118.34" y="1942.71" width="21.19" height="21.16" fill="#45337e"/><rect x="1139.23" y="1942.71" width="42.07" height="21.16" fill="#433e86"/><rect x="825.94" y="1963.57" width="167.39" height="21.16" fill="#4a1872"/><rect x="993.03" y="1963.57" width="62.96" height="21.16" fill="#48146c"/><rect x="1055.69" y="1963.57" width="42.07" height="21.16" fill="#4a1a72"/><rect x="1097.46" y="1963.57" width="83.84" height="21.16" fill="#491f74"/><rect x="825.94" y="1984.43" width="62.96" height="21.16" fill="#4a1872"/><rect x="888.60" y="1984.43" width="104.73" height="21.16" fill="#4b1f7a"/><rect x="993.03" y="1984.43" width="83.84" height="21.16" fill="#4a1670"/><rect x="1076.57" y="1984.43" width="21.19" height="21.16" fill="#41074f"/><rect x="1097.46" y="1984.43" width="83.84" height="21.16" fill="#4a1670"/><rect x="825.94" y="2005.30" width="62.96" height="21.16" fill="#4a1872"/><rect x="888.60" y="2005.30" width="104.73" height="21.16" fill="#4b1f7a"/><rect x="993.03" y="2005.30" width="188.27" height="21.16" fill="#4a1670"/><rect x="888.60" y="2026.16" width="104.73" height="21.16" fill="#4a1670"/><rect x="993.03" y="2026.16" width="42.07" height="21.16" fill="#48136b"/><rect x="1034.80" y="2026.16" width="21.19" height="21.16" fill="#4a2078"/><rect x="1055.69" y="2026.16" width="21.19" height="21.16" fill="#482a7a"/><rect x="1076.57" y="2026.16" width="21.19" height="21.16" fill="#482c7a"/><rect x="1097.46" y="2026.16" width="42.07" height="21.16" fill="#453f86"/><rect x="1139.23" y="2026.16" width="42.07" height="21.16" fill="#434888"/><rect x="951.26" y="2047.02" width="42.07" height="21.16" fill="#4a1670"/><rect x="993.03" y="2047.02" width="42.07" height="21.16" fill="#46287a"/><rect x="1034.80" y="2047.02" width="21.19" height="21.16" fill="#453a86"/><rect x="1055.69" y="2047.02" width="21.19" height="21.16" fill="#3e5a8e"/><rect x="1076.57" y="2047.02" width="21.19" height="21.16" fill="#3e6a8e"/><rect x="1097.46" y="2047.02" width="21.19" height="21.16" fill="#3a7a8c"/><rect x="1118.34" y="2047.02" width="21.19" height="21.16" fill="#40908a"/><rect x="1139.23" y="2047.02" width="21.19" height="21.16" fill="#3f9a8a"/><rect x="1160.11" y="2047.02" width="21.19" height="21.16" fill="#4cc878"/><rect x="951.26" y="2067.89" width="21.19" height="21.16" fill="#4a1670"/><rect x="972.14" y="2067.89" width="21.19" height="21.16" fill="#4a1a72"/><rect x="993.03" y="2067.89" width="42.07" height="21.16" fill="#46388a"/><rect x="1034.80" y="2067.89" width="21.19" height="21.16" fill="#3a6a90"/><rect x="1055.69" y="2067.89" width="21.19" height="21.16" fill="#3a8a8e"/><rect x="1076.57" y="2067.89" width="21.19" height="21.16" fill="#3c9890"/><rect x="1097.46" y="2067.89" width="21.19" height="21.16" fill="#8ade50"/><rect x="1118.34" y="2067.89" width="21.19" height="21.16" fill="#94e048"/><rect x="1139.23" y="2067.89" width="21.19" height="21.16" fill="#e6f040"/><rect x="1160.11" y="2067.89" width="21.19" height="21.16" fill="#dce838"/><rect x="951.26" y="2088.75" width="21.19" height="21.16" fill="#4a1670"/><rect x="972.14" y="2088.75" width="21.19" height="21.16" fill="#4a1a74"/><rect x="993.03" y="2088.75" width="42.07" height="21.16" fill="#46388a"/><rect x="1034.80" y="2088.75" width="21.19" height="21.16" fill="#3f5890"/><rect x="1055.69" y="2088.75" width="21.19" height="21.16" fill="#357a8c"/><rect x="1076.57" y="2088.75" width="21.19" height="21.16" fill="#3a8a8c"/><rect x="1097.46" y="2088.75" width="21.19" height="21.16" fill="#3f938a"/><rect x="1118.34" y="2088.75" width="21.19" height="21.16" fill="#46a88a"/><rect x="1139.23" y="2088.75" width="42.07" height="21.16" fill="#52c088"/><rect x="972.14" y="2109.61" width="21.19" height="21.16" fill="#481670"/><rect x="993.03" y="2109.61" width="42.07" height="21.16" fill="#481a72"/><rect x="1034.80" y="2109.61" width="21.19" height="21.16" fill="#482a7a"/><rect x="1055.69" y="2109.61" width="42.07" height="21.16" fill="#48307e"/><rect x="1097.46" y="2109.61" width="83.84" height="21.16" fill="#45428a"/><rect x="1076.57" y="2130.47" width="104.73" height="21.16" fill="#47126a"/>
<text transform="translate(875.48,1734.8) scale(1.0809,1)" x="0" y="0" font-family="DejaVu Sans, sans-serif" font-size="29.6" fill="#0a0610" stroke="#0a0610" stroke-width="0.5">AAAABB</text>
<text transform="translate(1082.87,1893.6) scale(1.1010,1)" x="0" y="0" font-family="DejaVu Sans, sans-serif" font-size="29.6" fill="#0a0610" stroke="#0a0610" stroke-width="0.5">AABB</text>
<text transform="translate(909.88,1991.6) scale(1.0861,1)" x="0" y="0" font-family="DejaVu Sans, sans-serif" font-size="29.6" fill="#0a0610" stroke="#0a0610" stroke-width="0.5">AAB</text>
<text transform="translate(1128.77,2065.1) scale(1.1052,1)" x="0" y="0" font-family="DejaVu Sans, sans-serif" font-size="29.6" fill="#0a0610" stroke="#0a0610" stroke-width="0.5">AB</text>
<line x1="434.3" y1="1545.4" x2="450" y2="1545.4" stroke="#3a3a3a" stroke-width="2"/>
<line x1="434.3" y1="1631.3" x2="450" y2="1631.3" stroke="#3a3a3a" stroke-width="2"/>
<line x1="434.3" y1="1717.2" x2="450" y2="1717.2" stroke="#3a3a3a" stroke-width="2"/>
<line x1="434.3" y1="1802.5" x2="450" y2="1802.5" stroke="#3a3a3a" stroke-width="2"/>
<line x1="434.3" y1="1888.1" x2="450" y2="1888.1" stroke="#3a3a3a" stroke-width="2"/>
<line x1="434.3" y1="1972.8" x2="450" y2="1972.8" stroke="#3a3a3a" stroke-width="2"/>
<line x1="434.3" y1="2058.7" x2="450" y2="2058.7" stroke="#3a3a3a" stroke-width="2"/>
<text transform="translate(413.8,2058.7) rotate(-90)" x="0" y="0" font-family="DejaVu Sans, sans-serif" font-stretch="condensed" font-size="27" fill="#1a1a1a" text-anchor="middle">2 n</text>
<text transform="translate(413.8,1972.8) rotate(-90)" x="0" y="0" font-family="DejaVu Sans, sans-serif" font-stretch="condensed" font-size="27" fill="#1a1a1a" text-anchor="middle">3 n</text>
<text transform="translate(413.8,1888.1) rotate(-90)" x="0" y="0" font-family="DejaVu Sans, sans-serif" font-stretch="condensed" font-size="27" fill="#1a1a1a" text-anchor="middle">4 n</text>
<text transform="translate(413.8,1802.5) rotate(-90)" x="0" y="0" font-family="DejaVu Sans, sans-serif" font-stretch="condensed" font-size="27" fill="#1a1a1a" text-anchor="middle">5 n</text>
<text transform="translate(413.8,1717.2) rotate(-90)" x="0" y="0" font-family="DejaVu Sans, sans-serif" font-stretch="condensed" font-size="27" fill="#1a1a1a" text-anchor="middle">6 n</text>
<text transform="translate(413.8,1631.3) rotate(-90)" x="0" y="0" font-family="DejaVu Sans, sans-serif" font-stretch="condensed" font-size="27" fill="#1a1a1a" text-anchor="middle">7 n</text>
<text transform="translate(413.8,1545.4) rotate(-90)" x="0" y="0" font-family="DejaVu Sans, sans-serif" font-stretch="condensed" font-size="27" fill="#1a1a1a" text-anchor="middle">8 n</text>
<line x1="752.2" y1="2172.4" x2="752.2" y2="2188.2" stroke="#3a3a3a" stroke-width="2"/>
<text x="752.2" y="2226.6" font-family="DejaVu Sans, sans-serif" font-stretch="condensed" font-size="27.5" fill="#111" text-anchor="middle">1/5</text>
<line x1="825.8" y1="2172.4" x2="825.8" y2="2188.2" stroke="#3a3a3a" stroke-width="2"/>
<text x="825.8" y="2226.6" font-family="DejaVu Sans, sans-serif" font-stretch="condensed" font-size="27.5" fill="#111" text-anchor="middle">1/4</text>
<line x1="948.2" y1="2172.4" x2="948.2" y2="2188.2" stroke="#3a3a3a" stroke-width="2"/>
<text x="948.2" y="2226.6" font-family="DejaVu Sans, sans-serif" font-stretch="condensed" font-size="27.5" fill="#111" text-anchor="middle">1/3</text>
<line x1="1045.2" y1="2172.4" x2="1045.2" y2="2188.2" stroke="#3a3a3a" stroke-width="2"/>
<text x="1045.2" y="2226.6" font-family="DejaVu Sans, sans-serif" font-stretch="condensed" font-size="27.5" fill="#111" text-anchor="middle">2/5</text>
<line x1="1170.7" y1="2172.4" x2="1170.7" y2="2188.2" stroke="#3a3a3a" stroke-width="2"/>
<text x="1170.7" y="2226.6" font-family="DejaVu Sans, sans-serif" font-stretch="condensed" font-size="27.5" fill="#111" text-anchor="middle">1/2</text>
<text transform="translate(353.7,1808.8) rotate(-90)" x="0" y="0" font-family="DejaVu Sans, sans-serif" font-size="35.4" fill="#15181c" text-anchor="middle">Total coverage of the kmer pair: A + B</text>
<svg x="0" y="2230" width="1207" height="70" overflow="hidden"><text x="413.6" y="56.3" font-family="DejaVu Sans, sans-serif" font-size="35.6" fill="#15181c">Normalized minor kmer coverage: B / (A + B)</text></svg>
<g fill="url(#gh)" stroke="#4a0610" stroke-width="1.3"><rect x="1212.3" y="1451.75" width="0.7" height="7.867"/><rect x="1212.3" y="1459.62" width="0.8" height="7.867"/><rect x="1212.3" y="1467.48" width="0.8" height="7.867"/><rect x="1212.3" y="1475.35" width="0.8" height="7.867"/><rect x="1212.3" y="1483.22" width="0.9" height="7.867"/><rect x="1212.3" y="1491.09" width="0.9" height="7.867"/><rect x="1212.3" y="1498.95" width="0.9" height="7.867"/><rect x="1212.3" y="1506.82" width="1.0" height="7.867"/><rect x="1212.3" y="1514.69" width="1.0" height="7.867"/><rect x="1212.3" y="1522.55" width="1.0" height="7.867"/><rect x="1212.3" y="1530.42" width="1.1" height="7.867"/><rect x="1212.3" y="1538.29" width="1.1" height="7.867"/><rect x="1212.3" y="1546.15" width="1.2" height="7.867"/><rect x="1212.3" y="1554.02" width="1.2" height="7.867"/><rect x="1212.3" y="1561.89" width="1.3" height="7.867"/><rect x="1212.3" y="1569.75" width="1.5" height="7.867"/><rect x="1212.3" y="1577.62" width="1.7" height="7.867"/><rect x="1212.3" y="1585.49" width="1.9" height="7.867"/><rect x="1212.3" y="1593.36" width="2.1" height="7.867"/><rect x="1212.3" y="1601.22" width="2.4" height="7.867"/><rect x="1212.3" y="1609.09" width="2.6" height="7.867"/><rect x="1212.3" y="1616.96" width="2.8" height="7.867"/><rect x="1212.3" y="1624.82" width="3.1" height="7.867"/><rect x="1212.3" y="1632.69" width="3.4" height="7.867"/><rect x="1212.3" y="1640.56" width="4.0" height="7.867"/><rect x="1212.3" y="1648.42" width="4.5" height="7.867"/><rect x="1212.3" y="1656.29" width="5.1" height="7.867"/><rect x="1212.3" y="1664.16" width="5.8" height="7.867"/><rect x="1212.3" y="1672.03" width="6.4" height="7.867"/><rect x="1212.3" y="1679.89" width="7.0" height="7.867"/><rect x="1212.3" y="1687.76" width="7.6" height="7.867"/><rect x="1212.3" y="1695.63" width="8.3" height="7.867"/><rect x="1212.3" y="1703.49" width="9.1" height="7.867"/><rect x="1212.3" y="1711.36" width="9.9" height="7.867"/><rect x="1212.3" y="1719.23" width="10.3" height="7.867"/><rect x="1212.3" y="1727.09" width="10.7" height="7.867"/><rect x="1212.3" y="1734.96" width="10.9" height="7.867"/><rect x="1212.3" y="1742.83" width="11.1" height="7.867"/><rect x="1212.3" y="1750.70" width="11.2" height="7.867"/><rect x="1212.3" y="1758.56" width="11.2" height="7.867"/><rect x="1212.3" y="1766.43" width="11.2" height="7.867"/><rect x="1212.3" y="1774.30" width="11.4" height="7.867"/><rect x="1212.3" y="1782.16" width="11.9" height="7.867"/><rect x="1212.3" y="1790.03" width="12.4" height="7.867"/><rect x="1212.3" y="1797.90" width="13.2" height="7.867"/><rect x="1212.3" y="1805.76" width="14.3" height="7.867"/><rect x="1212.3" y="1813.63" width="15.8" height="7.867"/><rect x="1212.3" y="1821.50" width="18.6" height="7.867"/><rect x="1212.3" y="1829.37" width="23.4" height="7.867"/><rect x="1212.3" y="1837.23" width="26.9" height="7.867"/><rect x="1212.3" y="1845.10" width="34.7" height="7.867"/><rect x="1212.3" y="1852.97" width="43.6" height="7.867"/><rect x="1212.3" y="1860.83" width="54.5" height="7.867"/><rect x="1212.3" y="1868.70" width="65.8" height="7.867"/><rect x="1212.3" y="1876.57" width="78.1" height="7.867"/><rect x="1212.3" y="1884.43" width="90.7" height="7.867"/><rect x="1212.3" y="1892.30" width="99.8" height="7.867"/><rect x="1212.3" y="1900.17" width="105.4" height="7.867"/><rect x="1212.3" y="1908.04" width="106.9" height="7.867"/><rect x="1212.3" y="1915.90" width="104.7" height="7.867"/><rect x="1212.3" y="1923.77" width="96.0" height="7.867"/><rect x="1212.3" y="1931.64" width="88.1" height="7.867"/><rect x="1212.3" y="1939.50" width="78.9" height="7.867"/><rect x="1212.3" y="1947.37" width="68.8" height="7.867"/><rect x="1212.3" y="1955.24" width="62.8" height="7.867"/><rect x="1212.3" y="1963.11" width="57.6" height="7.867"/><rect x="1212.3" y="1970.97" width="54.8" height="7.867"/><rect x="1212.3" y="1978.84" width="53.2" height="7.867"/><rect x="1212.3" y="1986.71" width="51.6" height="7.867"/><rect x="1212.3" y="1994.57" width="50.4" height="7.867"/><rect x="1212.3" y="2002.44" width="49.1" height="7.867"/><rect x="1212.3" y="2010.31" width="49.7" height="7.867"/><rect x="1212.3" y="2018.17" width="56.3" height="7.867"/><rect x="1212.3" y="2026.04" width="67.7" height="7.867"/><rect x="1212.3" y="2033.91" width="91.6" height="7.867"/><rect x="1212.3" y="2041.77" width="128.9" height="7.867"/><rect x="1212.3" y="2049.64" width="176.7" height="7.867"/><rect x="1212.3" y="2057.51" width="225.0" height="7.867"/><rect x="1212.3" y="2065.38" width="258.5" height="7.867"/><rect x="1212.3" y="2073.24" width="269.7" height="7.867"/><rect x="1212.3" y="2081.11" width="257.5" height="7.867"/><rect x="1212.3" y="2088.98" width="222.3" height="7.867"/><rect x="1212.3" y="2096.84" width="171.6" height="7.867"/><rect x="1212.3" y="2104.71" width="122.5" height="7.867"/><rect x="1212.3" y="2112.58" width="81.5" height="7.867"/><rect x="1212.3" y="2120.44" width="49.8" height="7.867"/><rect x="1212.3" y="2128.31" width="28.6" height="7.867"/><rect x="1212.3" y="2136.18" width="15.4" height="7.867"/><rect x="1212.3" y="2144.05" width="7.8" height="7.867"/><rect x="1212.3" y="2151.91" width="4.3" height="7.867"/></g>
<line x1="1212.3" y1="1453.5" x2="1212.3" y2="2160" stroke="#1a0a0c" stroke-width="2"/>
<text x="1266.9" y="1474" font-family="DejaVu Sans, sans-serif" font-size="30" fill="#111" textLength="41.8" lengthAdjust="spacing">AB</text>
<text x="1399.5" y="1474" font-family="DejaVu Sans, sans-serif" font-size="30" fill="#111" textLength="70.4" lengthAdjust="spacing">0.53</text>
<text x="1266.9" y="1509.4" font-family="DejaVu Sans, sans-serif" font-size="30" fill="#111" textLength="84.5" lengthAdjust="spacing">AABB</text>
<text x="1399.5" y="1509.4" font-family="DejaVu Sans, sans-serif" font-size="30" fill="#111" textLength="70.4" lengthAdjust="spacing">0.29</text>
<text x="1266.9" y="1546.5" font-family="DejaVu Sans, sans-serif" font-size="30" fill="#111" textLength="63.5" lengthAdjust="spacing">AAB</text>
<text x="1399.5" y="1546.5" font-family="DejaVu Sans, sans-serif" font-size="30" fill="#111" textLength="70.4" lengthAdjust="spacing">0.14</text>
<text x="1266.9" y="1581.9" font-family="DejaVu Sans, sans-serif" font-size="30" fill="#111" textLength="127.9" lengthAdjust="spacing">AAAABB</text>
<text x="1399.5" y="1581.9" font-family="DejaVu Sans, sans-serif" font-size="30" fill="#111" textLength="70.4" lengthAdjust="spacing">0.04</text>
<text x="1329.2" y="2176" font-family="DejaVu Sans, sans-serif" font-size="30.6" fill="#111" xml:space="preserve" style="white-space:pre" textLength="139.1" lengthAdjust="spacing">1n =  55</text></svg>
</body></html>
